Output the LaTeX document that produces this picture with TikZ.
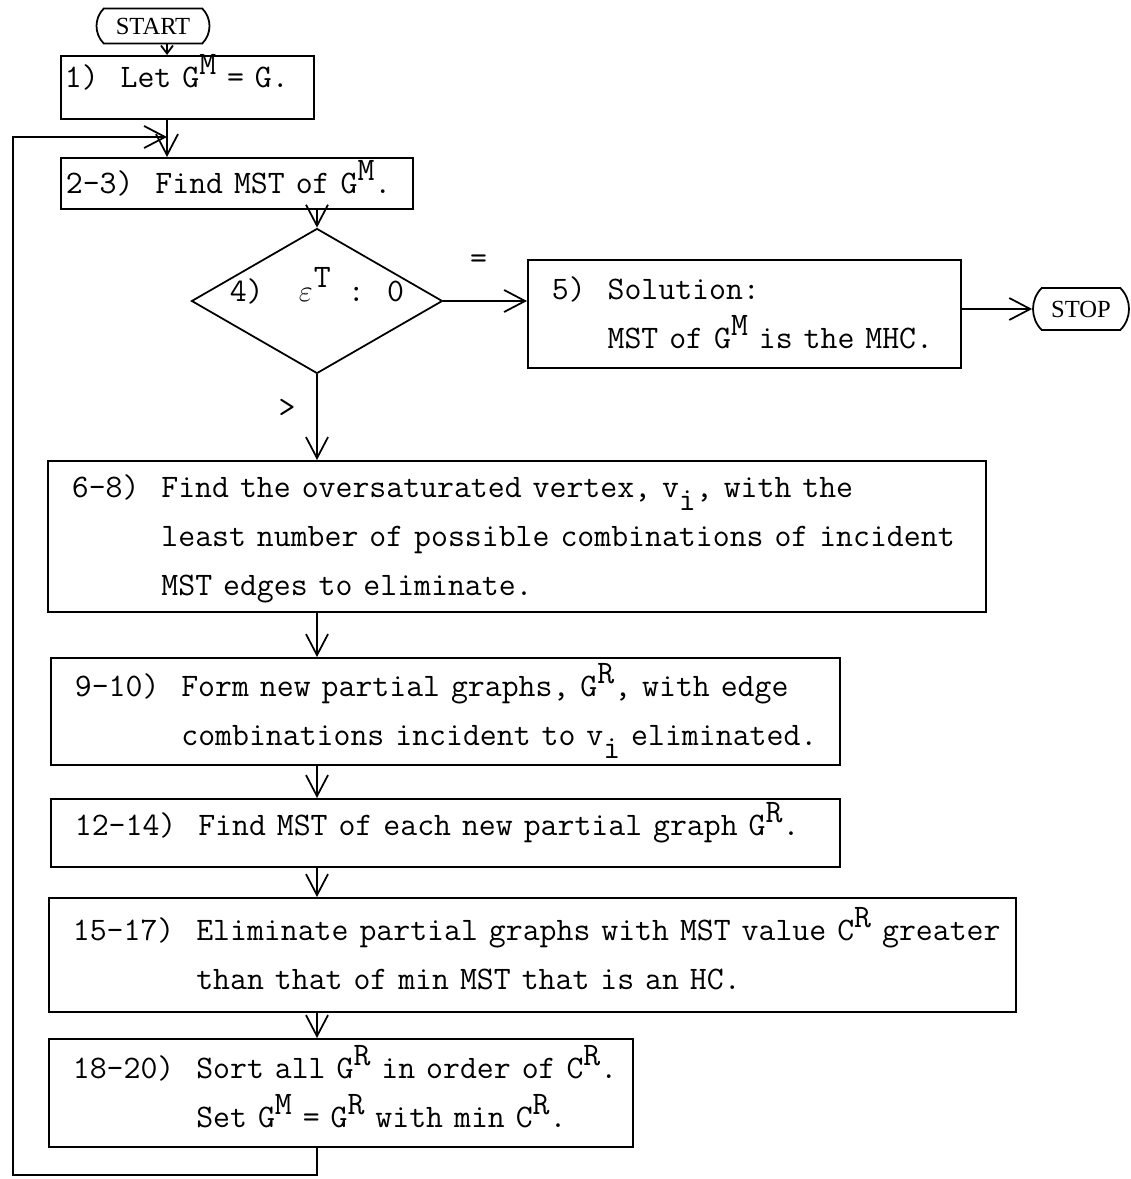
\documentclass[tikz,border=0pt]{standalone}
\usepackage{fontspec}
\newfontfamily\termfont{Liberation Serif}
\usetikzlibrary{shapes.geometric,shapes.misc,arrows.meta}
\newcommand{\mono}{\ttfamily\fontsize{18.7}{27.9}\selectfont}
\newcommand{\supc}[1]{\raisebox{0.4em}{#1}}
\newcommand{\subc}[1]{\raisebox{-0.4em}{#1}}
\newcommand{\epsc}{\makebox[0.5em]{$\varepsilon$}}
\tikzset{stepbox/.style={draw, line width=1pt, anchor=north west, align=left,
        inner xsep=0.48cm, inner ysep=0pt, font=\mono},
    termbox/.style={draw, line width=1pt, rounded rectangle,
        rounded rectangle arc length=90, inner sep=0pt,
        font=\termfont\fontsize{14}{16}\selectfont},
    decision/.style={draw, line width=1pt, diamond, aspect=1.73, inner sep=0pt, font=\mono},
    flow/.style={line width=1pt, -{Straight Barb[length=0.42cm, width=0.44cm]}},
    flowsmall/.style={line width=1pt, -{Straight Barb[length=0.16cm, width=0.24cm]}}
}

\begin{document}
\begin{tikzpicture}[x=0.02cm, y=-0.02cm]
    \useasboundingbox[fill=white] (0,0) rectangle (1131,1179);
    \coordinate (join) at (167,137);
    \coordinate (loopcorner) at (13,1175);
    \node[termbox, minimum width=2.26cm, minimum height=0.7cm] (start) at (153,26) {START};
    \node[stepbox, text width=4.9cm, inner xsep=0.08cm, minimum height=1.26cm,
        text height=0.3cm, text depth=0.3cm] (b1) at (60,55) {1)\ \ Let G\supc{M} = G.};
    \node[stepbox, text width=6.84cm, inner xsep=0.1cm, minimum height=1.02cm,
        text height=0.5cm, text depth=0.1cm] (b23) at (60,157) {2-3)\ \ Find MST of G\supc{M}.};
    \node[decision, minimum width=5.02cm, minimum height=2.9cm,
        text height=0.3cm, text depth=0.3cm] (dia) at (317,301) {4)\ \ \epsc\supc{T} : 0};
    \node[stepbox, text width=7.7cm, minimum height=2.16cm] (b5) at (527,259)
        {\begin{tabular}{@{}l@{\ \ }l@{}}5) & Solution:\\ & MST of G\supc{M} is the MHC.\end{tabular}};
    \node[termbox, minimum width=1.92cm, minimum height=0.84cm] (stop) at (1081,309) {STOP};
    \node[stepbox, text width=17.8cm, minimum height=3.02cm] (b68) at (47,460)
        {\begin{tabular}{@{}l@{\ \ }l@{}}6-8) & Find the oversaturated vertex, v\subc{i}, with the\\
        & least number of possible combinations of incident\\
        & MST edges to eliminate.\end{tabular}};
    \node[stepbox, text width=14.82cm, minimum height=2.14cm] (b910) at (50,657)
        {\begin{tabular}{@{}l@{\ \ }l@{}}9-10) & Form new partial graphs, G\supc{R}, with edge\\
        & combinations incident to v\subc{i} eliminated.\end{tabular}};
    \node[stepbox, text width=14.82cm, minimum height=1.36cm,
        text height=0.35cm, text depth=0.25cm] (b1214) at (50,798)
        {12-14)\ \ Find MST of each new partial graph G\supc{R}.};
    \node[stepbox, text width=18.38cm, minimum height=2.28cm] (b1517) at (48,897)
        {\begin{tabular}{@{}l@{\ \ }l@{}}15-17) & Eliminate partial graphs with MST value C\supc{R} greater\\
        & than that of min MST that is an HC.\end{tabular}};
    \node[stepbox, text width=10.72cm, minimum height=2.16cm] (b1820) at (48,1038)
        {\begin{tabular}{@{}l@{\ \ }l@{}}18-20) & Sort all G\supc{R} in order of C\supc{R}.\\
        & Set G\supc{M} = G\supc{R} with min C\supc{R}.\end{tabular}};

    \draw[flowsmall] (start.south -| join) -- (b1.north -| join);
    \draw[flow] (b1.south -| join) -- (b23.north -| join);
    \draw[flow] (b23.south -| dia.north) -- (dia.north);
    \draw[flow] (dia.east) -- (dia.east -| b5.west)
        node[pos=0.42, yshift=0.78cm, font=\mono] (eqlab) {=};
    \draw[flow] (b5.east |- stop.west) -- (stop.west);
    \draw[flow] (dia.south) -- (dia.south |- b68.north)
        node[pos=0.4, xshift=-0.6cm, font=\mono] (gtlab) {>};
    \draw[flow] (b68.south -| dia.south) -- (b910.north -| dia.south);
    \draw[flow] (b910.south -| dia.south) -- (b1214.north -| dia.south);
    \draw[flow] (b1214.south -| dia.south) -- (b1517.north -| dia.south);
    \draw[flow] (b1517.south -| dia.south) -- (b1820.north -| dia.south);
    \draw[flow] (b1820.south -| dia.south) |- (loopcorner) |- (join);
\end{tikzpicture}
\end{document}
